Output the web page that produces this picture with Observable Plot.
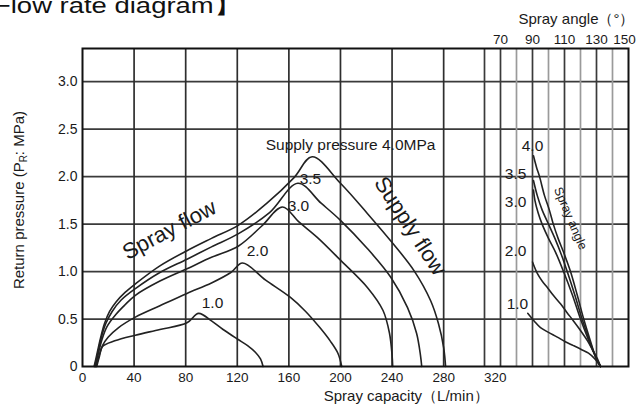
<!DOCTYPE html>
<html><head><meta charset="utf-8">
<script src="https://cdn.jsdelivr.net/npm/d3@7"></script>
<script src="https://cdn.jsdelivr.net/npm/@observablehq/plot@0.6"></script>
<style>
html,body{margin:0;padding:0;background:#fff;}
#wrap{position:relative;width:637px;height:412px;overflow:hidden;font-family:"Liberation Sans",Arial,sans-serif;background:#fff;}
#wrap svg{position:absolute;left:0;top:0;}
#title{position:absolute;left:-6px;top:-5px;font-size:22.5px;line-height:22px;white-space:nowrap;color:#111;transform:scaleX(1.22);transform-origin:0 0;z-index:5;}
#title .lb{position:absolute;right:100%;}
</style></head><body><div id="wrap"></div>
<script>
// ---- data ----
const capTicks = [0, 40, 80, 120, 160, 200, 240, 280, 320];
const capGrid = [40, 80, 120, 160, 200, 240, 280];
const pressTicks = [0, 0.5, 1.0, 1.5, 2.0, 2.5, 3.0];
const angleTicks = [70, 90, 110, 130];
const angleTickEnd = [150];
const angleGridDark = [60, 70, 90, 110, 130];
const angleGridLight = [80, 100, 120, 140];
const pressureNames = ["1.0", "2.0", "3.0", "3.5", "4.0"];

// spray flow (rising) + supply flow (falling): [capacity L/min, return pressure MPa]
const flow10 = [[11,0],[13,0.1],[15.5,0.21],[25,0.27],[41,0.33],[60,0.39],[81,0.46],[90,0.56],[100,0.48],[109,0.39],[120,0.29],[128,0.22],[134,0.15],[138,0.08],[140,0]];
const flow20 = [[10.5,0],[13,0.12],[15.5,0.22],[20,0.31],[28,0.41],[41,0.52],[60,0.64],[81,0.77],[100,0.88],[115,0.99],[124,1.09],[142,0.91],[161,0.73],[173,0.58],[184,0.41],[192,0.27],[198,0.14],[201,0]];
const flow30 = [[10,0],[12.5,0.15],[15,0.28],[19,0.42],[26,0.55],[33,0.65],[41,0.75],[60,0.9],[81,1.03],[100,1.15],[121,1.27],[139,1.48],[155,1.68],[168,1.52],[182,1.36],[200,1.12],[221,0.83],[233,0.59],[238,0.35],[240,0.12],[240.5,0]];
const flow35 = [[9.5,0],[12,0.15],[14.5,0.3],[18,0.45],[23,0.58],[30,0.7],[41,0.82],[60,0.99],[81,1.13],[100,1.26],[121,1.4],[145,1.62],[167,1.93],[185,1.72],[200,1.54],[221,1.24],[239,0.94],[252,0.62],[259,0.35],[262,0.12],[263,0]];
const flow40 = [[9,0],[11.5,0.15],[14,0.3],[17,0.45],[21,0.58],[26,0.68],[33,0.78],[41,0.87],[60,1.06],[81,1.22],[100,1.35],[121,1.49],[143,1.72],[164,1.99],[178,2.21],[200,1.93],[221,1.61],[241,1.29],[257,1.01],[270,0.69],[276,0.45],[280,0.2],[281.5,0]];

// spray angle curves: [spray angle °, return pressure MPa]
const angle10 = [[87,0.56],[91,0.48],[95,0.41],[100,0.36],[105.5,0.31],[110.5,0.26],[115.6,0.22],[120.5,0.18],[125,0.14],[129,0.08],[132.5,0]];
const angle20 = [[90,1.1],[93,0.98],[96,0.9],[99.4,0.83],[103,0.75],[107.5,0.66],[111.5,0.57],[115.6,0.48],[120,0.38],[124.4,0.27],[128,0.16],[130.6,0.08],[132.5,0]];
const angle30 = [[90.6,1.86],[91.5,1.75],[93.5,1.62],[96,1.5],[100,1.35],[104.5,1.2],[109.4,1.0],[115,0.75],[120,0.5],[125,0.28],[129.5,0.1],[132.5,0]];
const angle35 = [[90.6,1.96],[93,1.8],[96,1.65],[100,1.5],[104,1.35],[108,1.18],[111.7,1.0],[116.5,0.75],[121,0.5],[125.5,0.28],[129.5,0.1],[132.5,0]];
const angle40 = [[90.6,2.22],[92.5,2.1],[94.4,2.0],[97.5,1.8],[100.5,1.65],[103,1.5],[106,1.35],[109.5,1.2],[113.75,1.0],[118,0.75],[122,0.5],[126,0.28],[129.5,0.1],[132.5,0]];

// labels
const flowLabelText = ["1.0", "2.0", "3.0", "3.5", "Supply pressure 4.0MPa"];
const flowLabelCap = [100.8, 135.7, 167.4, 176.7, 207.8];
const flowLabelPr = [0.67, 1.22, 1.69, 1.98, 2.33];
const angleLabelText = ["1.0", "2.0", "3.0", "3.5", "4.0"];
const angleLabelDeg = [80.6, 79.4, 79.4, 79.4, 90];
const angleLabelPr = [0.66, 1.22, 1.73, 2.03, 2.32];
const noteText = ["Spray flow", "Supply flow"];
const noteCap = [67.4, 254];
const notePr = [1.44, 1.48];
const noteRotate = [-28, 57];
const angleNote = {text: "Spray angle", deg: 113.75, pr: 1.56, rotate: 67};
const xLabel = {text: "Spray capacity（L/min）", cap: 251};
const topLabel = "Spray angle（°）";

// ---- build tables ----
const flows = [flow10, flow20, flow30, flow35, flow40];
const angles = [angle10, angle20, angle30, angle35, angle40];
const flowRows = flows.flatMap((arr, i) => arr.map(([x, y]) => ({p: pressureNames[i], x, y})));
const angleRows = angles.flatMap((arr, i) => arr.map(([x, y]) => ({p: pressureNames[i], x, y})));
const flowLabels = flowLabelText.map((t, i) => ({t, x: flowLabelCap[i], y: flowLabelPr[i]}));
const angleLabels = angleLabelText.map((t, i) => ({t, x: angleLabelDeg[i], y: angleLabelPr[i]}));
const notes = noteText.map((t, i) => ({t, x: noteCap[i], y: notePr[i], r: noteRotate[i]}));

const W = 637, H = 412;
const M = {top: 48, right: 9, bottom: 46, left: 82};
const FONT = "'Liberation Sans', Arial, sans-serif";
const INK = "#1a1a1a";
const yDomain = [0, 3.35];
const capDomain = [0, 423.3];
const angleDomain = [-191.25, 150];

const main = Plot.plot({
  width: W, height: H,
  marginTop: M.top, marginRight: M.right, marginBottom: M.bottom, marginLeft: M.left,
  style: {fontFamily: FONT, background: "white", color: INK},
  x: {domain: capDomain},
  y: {domain: yDomain},
  marks: [
    Plot.ruleY(pressTicks.filter(d => d > 0), {stroke: "#3a3a3a", strokeWidth: 1.7}),
    Plot.ruleX(capGrid, {stroke: "#2e2e2e", strokeWidth: 1.7}),
    Plot.line(flowRows, {x: "x", y: "y", z: "p", stroke: "#222", strokeWidth: 1.6, curve: "catmull-rom"}),
    Plot.text(flowLabels, {x: "x", y: "y", text: "t", fontSize: 15.5, fill: INK}),
    Plot.text(notes, {x: "x", y: "y", text: "t", rotate: "r", fontSize: 22, fill: INK}),
    Plot.text([xLabel], {x: "cap", text: "text", frameAnchor: "bottom", dy: 34, fontSize: 15, fill: INK}),
    Plot.axisX(capTicks, {tickSize: 0, tickPadding: 6, fontSize: 13.5, label: null, tickFormat: d => String(d)}),
    Plot.axisY(pressTicks, {tickSize: 0, tickPadding: 5, fontSize: 14, label: null, tickFormat: d => d === 0 ? "0" : d.toFixed(1)})
  ]
});

const over = Plot.plot({
  width: W, height: H,
  marginTop: M.top, marginRight: M.right, marginBottom: M.bottom, marginLeft: M.left,
  style: {fontFamily: FONT, background: "none", color: INK},
  x: {domain: angleDomain},
  y: {domain: yDomain, axis: null},
  marks: [
    Plot.ruleX(angleGridLight, {stroke: "#9a9a9a", strokeWidth: 1.7}),
    Plot.ruleX(angleGridDark, {stroke: "#3a3a3a", strokeWidth: 1.7}),
    Plot.line(angleRows, {x: "x", y: "y", z: "p", stroke: "#222", strokeWidth: 1.6, curve: "catmull-rom"}),
    Plot.text(angleLabels, {x: "x", y: "y", text: "t", fontSize: 15.5, fill: INK}),
    Plot.text([angleNote], {x: "deg", y: "pr", text: "text", rotate: "rotate", fontSize: 12.5, fill: INK}),
    Plot.text([{t: topLabel, x: 150}], {x: "x", text: "t", frameAnchor: "top", textAnchor: "end", dx: 6, dy: -35, fontSize: 15, fill: INK}),
    Plot.axisX(angleTicks, {anchor: "top", tickSize: 0, tickPadding: 5, fontSize: 13.5, label: null, tickFormat: d => String(d)}),
    Plot.axisX(angleTickEnd, {anchor: "top", tickSize: 0, tickPadding: 5, fontSize: 13.5, dx: -4, label: null, tickFormat: d => String(d)}),
    Plot.frame({stroke: "#111", strokeWidth: 2})
  ]
});

// y-axis title with subscript
const sv = d3.select(main);
const yt = sv.append("text")
  .attr("transform", "translate(24,200) rotate(-90)")
  .attr("text-anchor", "middle")
  .attr("font-size", 15)
  .attr("font-family", FONT)
  .attr("fill", INK);
yt.append("tspan").text("Return pressure (P");
yt.append("tspan").attr("font-size", 10).attr("dy", 3).text("R");
yt.append("tspan").attr("dy", -3).text(": MPa)");

const wrap = document.getElementById("wrap");
wrap.appendChild(main);
wrap.appendChild(over);
const title = document.createElement("div");
title.id = "title";
title.innerHTML = '<span class="lb">【</span>Flow rate diagram】';
wrap.appendChild(title);
</script></body></html>
